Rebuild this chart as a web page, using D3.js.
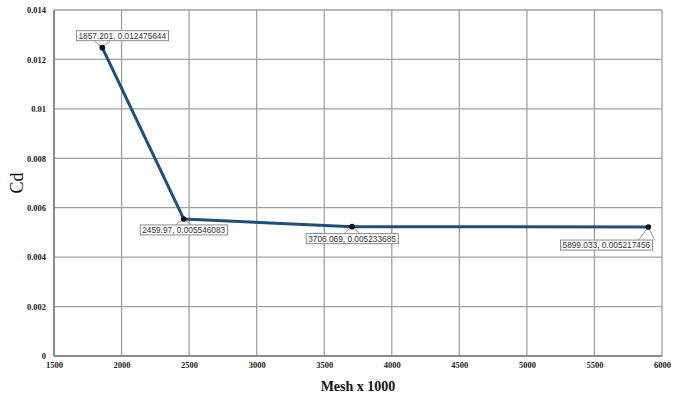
<!DOCTYPE html>
<html>
<head>
<meta charset="utf-8">
<script src="https://cdn.jsdelivr.net/npm/d3@7"></script>
<style>
  html, body { margin: 0; padding: 0; background: #fff; }
  svg { display: block; }
</style>
</head>
<body>
<svg id="chart" width="684" height="398"></svg>
<script>
// Drag coefficient vs mesh size (mesh independence study)
const meshSizes = [1857.201, 2459.97, 3706.069, 5899.033];
const cdValues  = [0.012475644, 0.005546083, 0.005233685, 0.005217456];
const xTicks = [1500, 2000, 2500, 3000, 3500, 4000, 4500, 5000, 5500, 6000];
const yTicks = [0, 0.002, 0.004, 0.006, 0.008, 0.01, 0.012, 0.014];
const yTickLabels = ["0", "0.002", "0.004", "0.006", "0.008", "0.01", "0.012", "0.014"];
const pointLabels = ["1857.201, 0.012475644", "2459.97, 0.005546083", "3706.069, 0.005233685", "5899.033, 0.005217456"];
// callout offsets (box centre relative to point)
const labelDx = [20, 0, 0, -42];
const labelDy = [-12, 11, 12, 18];

const svg = d3.select("#chart");
const margin = { left: 54, right: 22, top: 10, bottom: 42 };
const W = 684, H = 398;

const x = d3.scaleLinear().domain([1500, 6000]).range([margin.left, W - margin.right]);
const y = d3.scaleLinear().domain([0, 0.014]).range([H - margin.bottom, margin.top]);

const gridColor = "#a0a0a0";

// grid
svg.append("g").selectAll("line").data(xTicks).join("line")
  .attr("x1", d => x(d)).attr("x2", d => x(d))
  .attr("y1", y(0.014)).attr("y2", y(0))
  .attr("stroke", gridColor).attr("stroke-width", 1.3);
svg.append("g").selectAll("line").data(yTicks).join("line")
  .attr("x1", x(1500)).attr("x2", x(6000))
  .attr("y1", d => y(d)).attr("y2", d => y(d))
  .attr("stroke", gridColor).attr("stroke-width", 1.3);

// axes lines (left and bottom slightly heavier)
svg.append("line").attr("x1", x(1500)).attr("x2", x(1500)).attr("y1", y(0.014)).attr("y2", y(0))
  .attr("stroke", "#8a8a8a").attr("stroke-width", 2);
svg.append("line").attr("x1", x(1500)).attr("x2", x(6000)).attr("y1", y(0)).attr("y2", y(0))
  .attr("stroke", "#8a8a8a").attr("stroke-width", 2);

// tick labels
const tickFont = "'Liberation Serif', 'Times New Roman', serif";
const xAxis = d3.axisBottom(x).tickValues(xTicks).tickSize(0).tickPadding(6).tickFormat(d3.format("d"));
const gx = svg.append("g").attr("transform", `translate(0,${y(0)})`).call(xAxis);
gx.select(".domain").remove();
gx.selectAll("text").attr("font-family", tickFont).attr("font-size", 8.5).attr("font-weight", "bold").attr("fill", "#222");

const yAxis = d3.axisLeft(y).tickValues(yTicks).tickSize(0).tickPadding(8)
  .tickFormat((d, i) => yTickLabels[i]);
const gy = svg.append("g").attr("transform", `translate(${x(1500)},0)`).call(yAxis);
gy.select(".domain").remove();
gy.selectAll("text").attr("font-family", tickFont).attr("font-size", 8.5).attr("font-weight", "bold").attr("fill", "#222");

// axis titles
svg.append("text").attr("x", (x(1500) + x(6000)) / 2).attr("y", 391)
  .attr("text-anchor", "middle").attr("font-family", tickFont).attr("font-weight", "bold")
  .attr("font-size", 14).attr("fill", "#111").text("Mesh x 1000");
svg.append("text").attr("transform", `translate(23,${(y(0) + y(0.014)) / 2}) rotate(-90)`)
  .attr("text-anchor", "middle").attr("font-family", tickFont)
  .attr("font-size", 18).attr("fill", "#111").text("Cd");

// data line
const pts = meshSizes.map((m, i) => [m, cdValues[i]]);
svg.append("path").datum(pts)
  .attr("fill", "none").attr("stroke", "#1d4f7c").attr("stroke-width", 3)
  .attr("stroke-linejoin", "round")
  .attr("d", d3.line().x(d => x(d[0])).y(d => y(d[1])));

// callouts
const lab = svg.append("g");
pts.forEach((p, i) => {
  const px = x(p[0]), py = y(p[1]);
  const cx = px + labelDx[i], cy = py + labelDy[i];
  const g = lab.append("g");
  const t = g.append("text").attr("x", cx).attr("y", cy + 3)
    .attr("text-anchor", "middle").attr("font-family", "'Liberation Sans', Arial, sans-serif")
    .attr("font-size", 8.3).attr("fill", "#333").text(pointLabels[i]);
  const bb = t.node().getBBox();
  const bx = bb.x - 2, by = cy - 5, bw = bb.width + 4, bh = 10;
  // wedge from box edge to point
  const edgeY = py < cy ? by : by + bh;
  const ax = Math.max(bx + 6, Math.min(bx + bw - 6, px));
  g.insert("path", "text")
    .attr("d", `M${ax - 8},${edgeY} L${px},${py} L${ax + 8},${edgeY}`)
    .attr("fill", "none").attr("stroke", "#9a9a9a").attr("stroke-width", 1);
  g.insert("rect", "text").attr("x", bx).attr("y", by).attr("width", bw).attr("height", bh)
    .attr("fill", "#fff").attr("stroke", "#8a8a8a").attr("stroke-width", 1);
});

// markers
svg.append("g").selectAll("circle").data(pts).join("circle")
  .attr("cx", d => x(d[0])).attr("cy", d => y(d[1])).attr("r", 2.8).attr("fill", "#111");
</script>
</body>
</html>
